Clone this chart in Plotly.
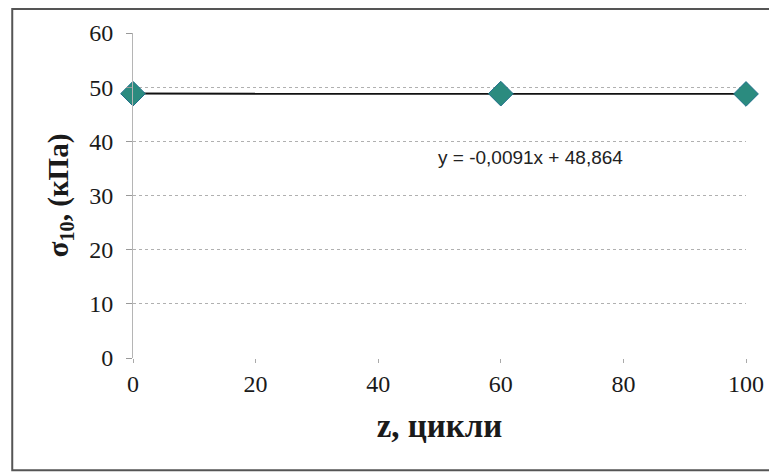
import numpy as np
import plotly.graph_objects as go

z_cycles = [0, 60, 100]
sigma10 = [48.8, 48.8, 48.75]
x_ticks = [0, 20, 40, 60, 80, 100]
y_ticks = [0, 10, 20, 30, 40, 50, 60]
trend_label = "y = -0,0091x + 48,864"

slope, intercept = np.polyfit(z_cycles, sigma10, 1)
trend_x = [min(z_cycles), max(z_cycles)]
trend_y = [intercept + slope * v for v in trend_x]

fig = go.Figure()
fig.add_trace(go.Scatter(x=trend_x, y=trend_y, mode="lines",
                         line=dict(color="#111111", width=2), showlegend=False))
fig.add_trace(go.Scatter(x=z_cycles, y=sigma10, mode="markers",
                         marker=dict(symbol="diamond", size=19, color="#2b8b7f",
                                     line=dict(color="#1f6f8a", width=1)),
                         showlegend=False, cliponaxis=False))

fig.add_annotation(x=64.8, y=37.1, text=trend_label, showarrow=False,
                   font=dict(family="Liberation Sans", size=19, color="#222222"))

fig.update_layout(
    width=769, height=466,
    margin=dict(l=125, r=31, t=25, b=116),
    plot_bgcolor="white", paper_bgcolor="white",
    font=dict(family="Liberation Serif", color="#1a1a1a"),
    shapes=[dict(type="rect", xref="paper", yref="paper",
                 x0=-0.197, x1=1.047, y0=-0.345, y1=1.074,
                 line=dict(color="#555555", width=2))],
)
fig.update_xaxes(range=[0, 100], tickvals=x_ticks, showgrid=False,
                 zeroline=False, showline=False, automargin=False,
                 ticks="outside", ticklen=4, tickcolor="#aaaaaa",
                 tickfont=dict(size=24, family="Liberation Serif"),
                 title=dict(text="<b>z, цикли</b>", font=dict(size=33, family="Liberation Serif"),
                            standoff=18))
fig.update_yaxes(range=[0, 60], tickvals=y_ticks, showgrid=True,
                 gridcolor="#b0b0b0", griddash="dot", gridwidth=1,
                 zeroline=False, showline=True, linecolor="#b5b5b5", linewidth=1,
                 automargin=False, ticklabelstandoff=8,
                 ticks="outside", ticklen=6, tickcolor="#999999",
                 tickfont=dict(size=24, family="Liberation Serif"),
                 title=dict(text="<b>σ<sub>10</sub>, (кПа)</b>",
                            font=dict(size=29, family="Liberation Serif"), standoff=12))

fig.write_html("out.html")
